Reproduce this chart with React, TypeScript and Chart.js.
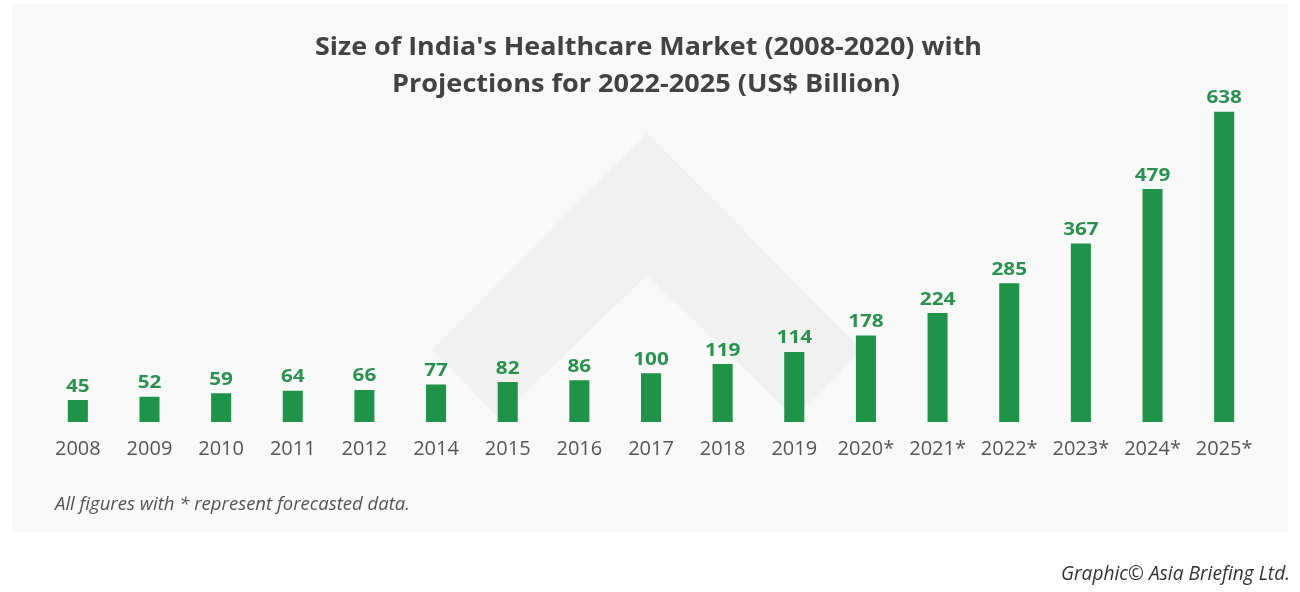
import { useEffect, useRef } from "react";
import { Chart, registerables } from "chart.js";

Chart.register(...registerables);

const years = [
  "2008", "2009", "2010", "2011", "2012", "2014", "2015", "2016", "2017",
  "2018", "2019", "2020*", "2021*", "2022*", "2023*", "2024*", "2025*",
];
// bar heights as drawn in the picture
const marketSize = [45, 52, 59, 64, 66, 77, 82, 86, 100, 119, 144, 178, 224, 285, 367, 479, 638];
// value labels as printed in the picture
const valueLabels = [
  "45", "52", "59", "64", "66", "77", "82", "86", "100", "119", "114",
  "178", "224", "285", "367", "479", "638",
];
const titleLines = [
  "Size of India's Healthcare Market (2008-2020) with",
  "Projections for 2022-2025 (US$ Billion)",
];
const footnote = "All figures with * represent forecasted data.";
const credit = "Graphic\u00A9 Asia Briefing Ltd.";

const BAR_COLOR = "#1f9347";
const LABEL_COLOR = "#2b9150";

function fitText(
  ctx: CanvasRenderingContext2D,
  text: string,
  font: string,
  color: string,
  x: number,
  y: number,
  targetWidth: number,
  align: "left" | "center"
) {
  ctx.save();
  ctx.font = font;
  ctx.fillStyle = color;
  ctx.textBaseline = "alphabetic";
  ctx.textAlign = align;
  const w = ctx.measureText(text).width;
  ctx.translate(x, y);
  ctx.scale(targetWidth / w, 1);
  ctx.fillText(text, 0, 0);
  ctx.restore();
}

const decor = {
  id: "decor",
  beforeDraw(chart: any) {
    const { ctx, width, height } = chart;
    ctx.save();
    ctx.fillStyle = "#ffffff";
    ctx.fillRect(0, 0, width, height);
    ctx.fillStyle = "#f9f9fa";
    ctx.fillRect(12, 4, 1276, 528);
    // faint watermark chevron
    ctx.fillStyle = "#f1f1f2";
    ctx.beginPath();
    ctx.moveTo(647, 133);
    ctx.lineTo(862, 350);
    ctx.lineTo(795, 418);
    ctx.lineTo(647, 275);
    ctx.lineTo(499, 418);
    ctx.lineTo(432, 350);
    ctx.closePath();
    ctx.fill();
    ctx.restore();
  },
  afterDatasetsDraw(chart: any) {
    const { ctx } = chart;
    const meta = chart.getDatasetMeta(0);
    meta.data.forEach((bar: any, i: number) => {
      ctx.save();
      ctx.font = "bold 18px 'Open Sans'";
      ctx.fillStyle = LABEL_COLOR;
      ctx.textAlign = "center";
      ctx.textBaseline = "alphabetic";
      ctx.translate(bar.x, bar.y - 8.5);
      ctx.scale(1.15, 1);
      ctx.fillText(valueLabels[i], 0, 0);
      ctx.restore();
    });
  },
  afterDraw(chart: any) {
    const { ctx } = chart;
    fitText(ctx, titleLines[0], "bold 25px 'Open Sans'", "#424242", 315, 54.5, 667, "left");
    fitText(ctx, titleLines[1], "bold 25px 'Open Sans'", "#424242", 392, 92, 508, "left");
    fitText(ctx, footnote, "italic 18px 'Open Sans'", "#555555", 55, 509.5, 355, "left");
    fitText(ctx, credit, "italic 20px 'Open Sans'", "#333333", 1061, 579.5, 229, "left");
  },
};

export default function App() {
  const ref = useRef<HTMLCanvasElement | null>(null);
  useEffect(() => {
    if (!ref.current) return;
    const chart = new Chart(ref.current, {
      type: "bar",
      data: {
        labels: years,
        datasets: [
          {
            data: marketSize,
            backgroundColor: BAR_COLOR,
            borderWidth: 0,
            barPercentage: 0.28,
            categoryPercentage: 1,
          },
        ],
      },
      options: {
        responsive: false,
        animation: false,
        devicePixelRatio: 1,
        layout: { padding: { top: 81.5, left: 42, right: 40, bottom: 116 } },
        plugins: {
          legend: { display: false },
          title: { display: false },
          tooltip: { enabled: false },
        },
        scales: {
          x: {
            grid: { display: false, drawTicks: false },
            border: { display: false },
            ticks: {
              color: "#555555",
              font: { family: "'Open Sans'", size: 20 },
              padding: 15,
              maxRotation: 0,
              autoSkip: false,
            },
          },
          y: {
            display: false,
            min: 0,
            max: 700,
          },
        },
      },
      plugins: [decor],
    });
    return () => chart.destroy();
  }, []);
  return (
    <div style={{ position: "fixed", left: 0, top: 0, width: 1300, height: 592 }}>
      <canvas ref={ref} width={1300} height={592} style={{ display: "block" }} />
    </div>
  );
}
